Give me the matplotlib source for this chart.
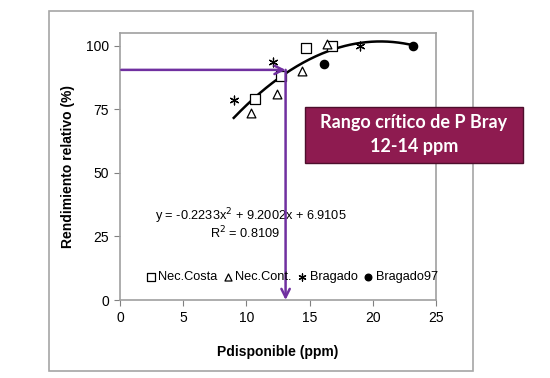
import matplotlib
matplotlib.use('Agg')
import matplotlib.pyplot as plt
import numpy as np
from matplotlib.patches import Rectangle

# Data
costa_x = [10.7, 12.7, 14.7, 16.8]
costa_y = [79, 88, 99, 100]
cont_x = [10.4, 12.4, 14.4, 16.4]
cont_y = [73.5, 81, 90, 100.5]
bragado_x = [9.0, 12.1, 19.0]
bragado_y = [78.5, 93.5, 100]
brag97_x = [16.1, 23.2]
brag97_y = [93, 100]

# Quadratic trend coefficients (as printed on the chart)
coef = [-0.2233, 9.2002, 6.9105]
r2 = 0.8109
trend_range = [9.0, 23.0]

# Critical level read by the purple arrows
crit_x = 13.1
crit_y = 90.5

x_ticks = [0, 5, 10, 15, 20, 25]
y_ticks = [0, 25, 50, 75, 100]

plt.rcParams['font.family'] = ['Liberation Sans', 'DejaVu Sans']

W, H = 550, 378
fig = plt.figure(figsize=(W / 100, H / 100), dpi=100)

# Outer chart border
fig.add_artist(Rectangle((49 / W, 1 - 371 / H), (473 - 49) / W, (371 - 11) / H,
                         transform=fig.transFigure, fill=False,
                         edgecolor='#a6a6a6', linewidth=1.2, zorder=1))

ax = fig.add_axes([120 / W, 1 - 300 / H, (436 - 120) / W, (300 - 33) / H])
ax.set_xlim(0, 25)
ax.set_ylim(0, 105)

# Scatter series
ax.scatter(costa_x, costa_y, marker='s', s=45, facecolors='white', edgecolors='black',
           linewidths=0.9, label='Nec.Costa', zorder=3)
ax.scatter(cont_x, cont_y, marker='^', s=40, facecolors='white', edgecolors='black',
           linewidths=0.9, label='Nec.Cont.', zorder=3)
ax.scatter(bragado_x, bragado_y, marker=(6, 2, 0), s=40, color='black',
           linewidths=0.9, label='Bragado', zorder=3)
ax.scatter(brag97_x, brag97_y, marker='o', s=35, color='black',
           label='Bragado97', zorder=3)

# Trend line
tx = np.linspace(trend_range[0], trend_range[1], 200)
ax.plot(tx, np.polyval(coef, tx), color='black', lw=1.8, zorder=2)

# Purple arrows
purple = '#7030A0'
ax.annotate('', xy=(crit_x, crit_y), xytext=(0.1, crit_y),
            arrowprops=dict(arrowstyle='->,head_length=0.6,head_width=0.3',
                            color=purple, lw=1.8, shrinkA=0, shrinkB=0), zorder=4)
ax.annotate('', xy=(crit_x, 0), xytext=(crit_x, crit_y),
            arrowprops=dict(arrowstyle='->,head_length=0.6,head_width=0.3',
                            color=purple, lw=1.8, shrinkA=0, shrinkB=0), zorder=4)

# Equation
ax.text(10.35, 33, 'y = %.4fx$^2$ + %.4fx + %.4f' % (coef[0], coef[1], coef[2]),
        ha='center', va='center', fontsize=9.2)
ax.text(9.9, 26.5, 'R$^2$ = %.4f' % r2, ha='center', va='center', fontsize=9.2)

# Axes styling
for side in ['left', 'bottom', 'top', 'right']:
    ax.spines[side].set_color('#a0a0a0')
    ax.spines[side].set_linewidth(1.2)
ax.set_xticks(x_ticks)
ax.set_yticks(y_ticks)
ax.tick_params(direction='out', length=4, color='#808080', labelsize=10, pad=4)
ax.set_ylabel('Rendimiento relativo (%)', fontsize=10, fontweight='bold', labelpad=8)
ax.set_xlabel('Pdisponible (ppm)', fontsize=10, fontweight='bold', labelpad=14)

ax.legend(loc='center', bbox_to_anchor=(0.545, 0.086), ncol=4, frameon=False,
          fontsize=9.2, handletextpad=0.3, columnspacing=0.5, handlelength=0.6,
          markerscale=0.8, borderaxespad=0)

# Critical range box
fig.add_artist(Rectangle((305 / W, 1 - 163 / H), 218 / W, 56 / H,
                         transform=fig.transFigure, facecolor='#8E1B50',
                         edgecolor='#4d0f2c', linewidth=1.0, zorder=5))
fig.text(414 / W, 1 - 123 / H, 'Rango crítico de P Bray', color='white', ha='center',
         va='center', fontsize=13, family='Lato', fontweight='bold', zorder=6)
fig.text(414 / W, 1 - 147 / H, '12-14 ppm', color='white', ha='center',
         va='center', fontsize=13, family='Lato', fontweight='bold', zorder=6)

fig.savefig('out.png', dpi=100)
